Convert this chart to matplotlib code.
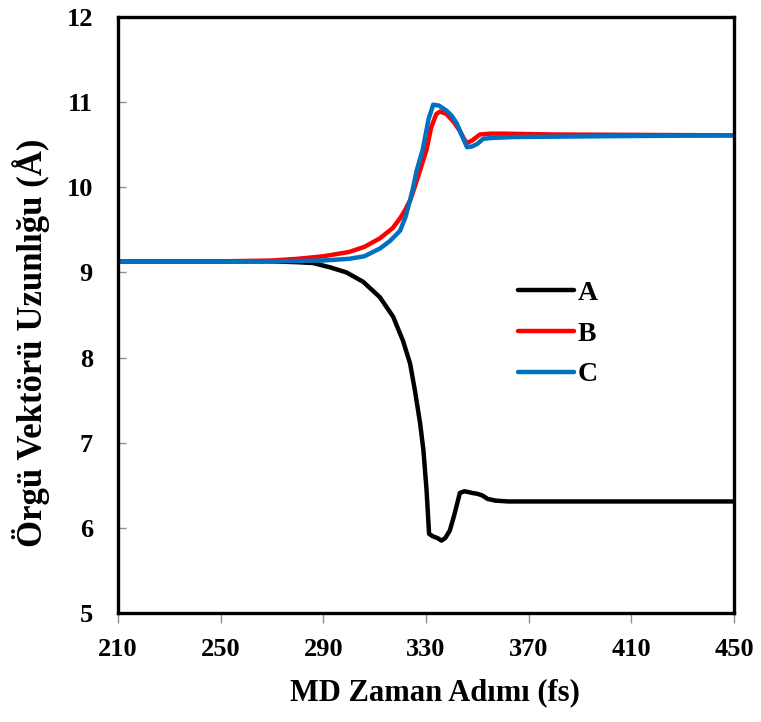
import matplotlib
matplotlib.use("Agg")
import matplotlib.pyplot as plt

# Data
a_x = [210, 250, 270, 280, 286, 292.6, 299, 305.5, 312, 317.2, 321, 323.8, 325.7, 327.7,
       329, 330.2, 331.2, 332.7, 334.5, 336, 337.5, 339.3, 341, 343.2, 345, 348, 350,
       352, 354, 357, 362, 380, 410, 450]
a_y = [9.13, 9.13, 9.13, 9.12, 9.11, 9.06, 9.00, 8.89, 8.71, 8.48, 8.20, 7.93, 7.61, 7.23,
       6.91, 6.45, 5.93, 5.90, 5.88, 5.85, 5.88, 5.97, 6.15, 6.41, 6.43, 6.41, 6.40,
       6.38, 6.34, 6.32, 6.31, 6.31, 6.31, 6.31]

b_x = [210, 250, 270, 280, 290, 300, 306, 312, 317, 320, 322, 324, 326, 327.7, 330.2,
       332, 334, 335.5, 338, 341, 343, 345, 346, 348, 351, 355, 360, 380, 450]
b_y = [9.13, 9.13, 9.14, 9.16, 9.19, 9.24, 9.30, 9.40, 9.52, 9.64, 9.74, 9.86, 10.04,
       10.20, 10.44, 10.70, 10.86, 10.89, 10.86, 10.76, 10.67, 10.56, 10.52, 10.55,
       10.62, 10.63, 10.63, 10.62, 10.61]

c_x = [210, 270, 290, 300, 306, 312, 316, 319.9, 322, 323.8, 325, 326.4, 328.7, 331,
       332.8, 335, 338, 340, 342, 344.5, 346, 348, 350, 352.3, 356, 364, 400, 450]
c_y = [9.13, 9.13, 9.14, 9.16, 9.19, 9.28, 9.37, 9.49, 9.65, 9.85, 10.00, 10.20, 10.44,
       10.80, 10.97, 10.96, 10.90, 10.84, 10.75, 10.57, 10.47, 10.48, 10.51, 10.57,
       10.58, 10.59, 10.60, 10.61]

labels = ["A", "B", "C"]
x_ticks = [210, 250, 290, 330, 370, 410, 450]
y_ticks = [5, 6, 7, 8, 9, 10, 11, 12]

plt.rcParams['font.family'] = ['Liberation Serif', 'DejaVu Serif']
plt.rcParams['font.weight'] = 'bold'

fig = plt.figure(figsize=(7.61, 7.22), dpi=100)
ax = fig.add_axes([118/761, 1-613/722, (734-118)/761, (613-17)/722])

ax.plot(a_x, a_y, color='black', lw=3.2, label=labels[0], solid_capstyle='round')
ax.plot(b_x, b_y, color='#FF0000', lw=3.2, label=labels[1], solid_capstyle='round')
ax.plot(c_x, c_y, color='#0070C0', lw=3.2, label=labels[2], solid_capstyle='round')

ax.set_xlim(210, 450)
ax.set_ylim(5, 12)
ax.set_xticks(x_ticks)
ax.set_yticks(y_ticks)
ax.set_xticklabels([str(t) for t in x_ticks], fontsize=19, fontweight='bold')
ax.set_yticklabels([str(t) for t in y_ticks], fontsize=19, fontweight='bold')
ax.tick_params(axis='x', direction='out', length=7, width=1, color='#909090', pad=11)
ax.tick_params(axis='y', direction='in', length=6, width=1, color='#909090', pad=18)

for s in ax.spines.values():
    s.set_linewidth(2.4)
    s.set_color('black')

fig.text(435/761, 1-693/722, "MD Zaman Adımı (fs)", ha='center', va='center',
         fontsize=22, fontweight='bold')
fig.text(31/761, 1-343/722, "Örgü Vektörü Uzunlığu (Å)", ha='center', va='center',
         rotation=90, fontsize=25, fontweight='bold')

leg = ax.legend(loc='center left', bbox_to_anchor=((518-118)/616, (613-334)/596),
                frameon=False, handlelength=2.0, handletextpad=0.15,
                labelspacing=0.55, borderpad=0, borderaxespad=0,
                prop={'weight': 'bold', 'size': 20})

fig.savefig("out.png", dpi=100)
